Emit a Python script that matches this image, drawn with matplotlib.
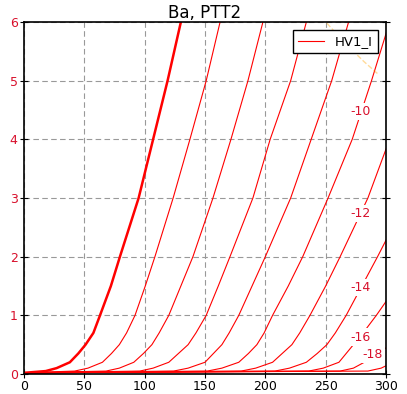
import numpy as np
import matplotlib
matplotlib.use("Agg")
import matplotlib.pyplot as plt

# current levels (mA) and the plate voltage where each curve reaches them
levels = [0.02, 0.05, 0.1, 0.2, 0.35, 0.5, 0.7, 1, 1.5, 2, 3, 4, 5, 6]
grid_volts = [0, -2, -4, -6, -8, -10, -12, -14, -16, -18, -20]
vp_at_level = {
    0:   [0, 18, 27, 38, 45, 51, 57.5, 63, 72, 79.5, 95, 107, 119, 130],
    -2:  [0, 42, 53, 65, 72.5, 79, 85, 92, 100.5, 108.5, 123.6, 137.5, 151, 162.5],
    -4:  [0, 68, 79, 91, 99, 106, 112, 120, 130, 140, 156.6, 171.5, 185.6, 198],
    -6:  [0, 96, 107, 120, 128, 136, 142.5, 151, 161, 170.7, 189.7, 204, 221, 234],
    -8:  [0, 124, 136, 150, 157, 164, 170, 178, 189, 200, 221, 238, 255, 269],
    -10: [0, 152, 164, 178, 186, 193, 199, 206, 219, 231, 252, 272, 288, 303],
    -12: [0, 180, 192, 206, 214, 222, 228.5, 237, 250, 262, 285, 303, 320, 336],
    -14: [0, 208, 220, 234, 243, 251, 258, 267, 280, 293, 318, 338, 356, 372],
    -16: [0, 236, 248, 261, 267, 273, 281, 292, 309, 325, 350, 372, 392, 410],
    -18: [0, 262, 273, 282, 293, 304, 317, 330, 346, 362, 390, 412, 432, 450],
    -20: [0, 285, 296, 306, 318, 330, 343, 356, 373, 390, 420, 445, 465, 485],
}
# label positions
label_volts = [-10, -12, -14, -16, -18]
label_x = [279, 279, 279, 279, 289]
label_y = [4.48, 2.73, 1.48, 0.63, 0.34]
# dissipation limit (dashed)
pmax_x = [251, 262, 272, 282, 293]
pmax_y = [5.98, 5.73, 5.52, 5.32, 5.12]

txt_red = '#d8102c'

fig = plt.figure(figsize=(4.07, 3.94), dpi=100)
ax = fig.add_axes([24/407, 20/394, 362/407, 352/394])

for vg in grid_volts:
    if vg == 0:
        ax.plot(vp_at_level[vg], levels, color='red', lw=1.8)
    elif vg == -2:
        ax.plot(vp_at_level[vg], levels, color='red', lw=0.8, label='HV1_I')
    else:
        ax.plot(vp_at_level[vg], levels, color='red', lw=0.8)

ax.plot(pmax_x, pmax_y, color='orange', lw=1, ls='--', alpha=0.4)

for v, x, y in zip(label_volts, label_x, label_y):
    ax.text(x, y, str(v), color=txt_red, fontsize=9, ha='center', va='center',
            bbox=dict(facecolor='white', edgecolor='none', pad=1.5))

ax.set_xlim(0, 300)
ax.set_ylim(0, 6)
ax.set_xticks(np.arange(0, 301, 50))
ax.set_yticks(np.arange(0, 7, 1))
ax.grid(True, color='#999999', ls=(0, (5, 3)), lw=0.8)
ax.set_axisbelow(True)
ax.tick_params(axis='both', direction='inout', length=6, labelsize=9, right=True, pad=1.5)
ax.tick_params(axis='y', labelcolor=txt_red)
for s in ax.spines.values():
    s.set_linewidth(1.2)

ax.set_title('Ba, PTT2', fontsize=12, pad=3)
leg = ax.legend(loc='upper right', fontsize=9.5, fancybox=False, framealpha=1,
                edgecolor='black', borderaxespad=0.6)
leg.get_frame().set_linewidth(1)

fig.savefig('out.png', dpi=100)
